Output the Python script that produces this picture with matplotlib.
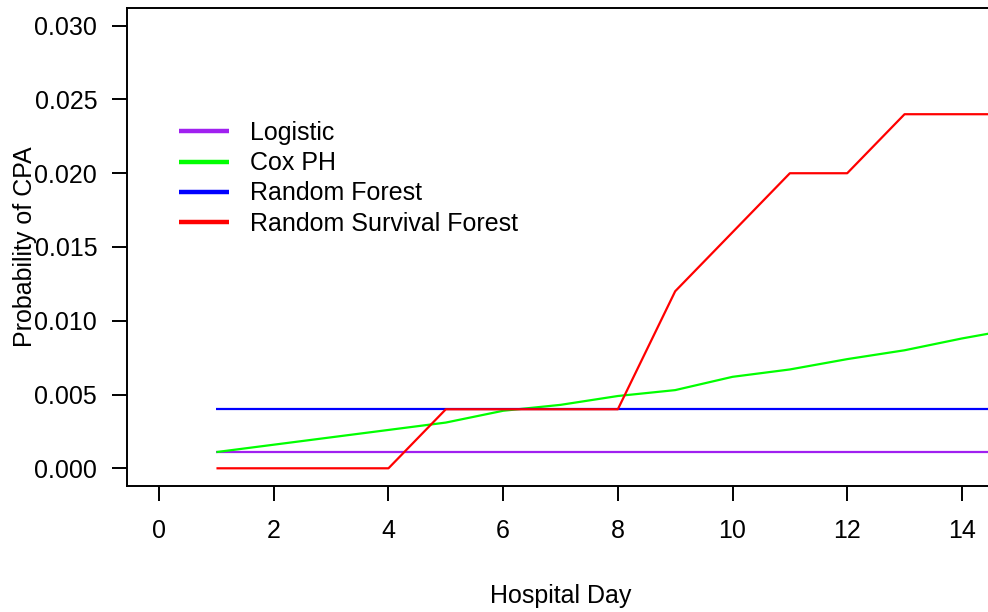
import matplotlib
matplotlib.use("Agg")
import matplotlib.pyplot as plt
import numpy as np

days = [1, 2, 3, 4, 5, 6, 7, 8, 9, 10, 11, 12, 13, 14, 15]
logistic = [0.0011] * 15
cox_ph = [0.0011, 0.0016, 0.0021, 0.0026, 0.0031, 0.0039, 0.0043, 0.0049, 0.0053,
          0.0062, 0.0067, 0.0074, 0.0080, 0.0088, 0.0095]
random_forest = [0.004] * 15
rsf = [0.0, 0.0, 0.0, 0.0, 0.004, 0.004, 0.004, 0.004, 0.012, 0.016, 0.020, 0.020,
       0.024, 0.024, 0.024]

labels = ["Logistic", "Cox PH", "Random Forest", "Random Survival Forest"]
colors = ["#A020F0", "#00FF00", "#0000FF", "#FF0000"]
xticks = [0, 2, 4, 6, 8, 10, 12, 14]
yticks = [0.000, 0.005, 0.010, 0.015, 0.020, 0.025, 0.030]

plt.rcParams['font.family'] = ['Liberation Sans', 'DejaVu Sans']
fig = plt.figure(figsize=(9.88, 6.12), dpi=100)
W, H = 988, 612
left, right, top, bottom = 127, 994, 8, 486
ax = fig.add_axes([left / W, 1 - bottom / H, (right - left) / W, (bottom - top) / H])

series = [logistic, cox_ph, random_forest, rsf]
for s, c, l in zip(series, colors, labels):
    ax.plot(days, s, color=c, lw=1.6, label=l, solid_capstyle='butt')

ax.set_xlim(-0.56, 14.56)
ax.set_ylim(-0.0012, 0.0312)
ax.set_xticks(xticks)
ax.set_xticklabels([str(x) for x in xticks])
ax.set_yticks(yticks)
ax.set_yticklabels([f"{y:.3f}" for y in yticks])
for sp in ax.spines.values():
    sp.set_linewidth(1.4)
ax.tick_params(axis='both', length=11, width=1.4, labelsize=18)
ax.tick_params(axis='y', pad=10.5)
ax.tick_params(axis='x', pad=13)
ax.set_xlabel("Hospital Day", fontsize=18, labelpad=29)
ax.set_ylabel("Probability of CPA", fontsize=18, labelpad=-2)

leg = ax.legend(loc='upper left', bbox_to_anchor=(42 / (right - left), (486 - 111) / (bottom - top)),
                frameon=False, fontsize=18, handlelength=2.0, handletextpad=0.85,
                labelspacing=0.25, borderaxespad=0)
for h in leg.get_lines():
    h.set_linewidth(3.2)

fig.savefig("out.png", dpi=100)
